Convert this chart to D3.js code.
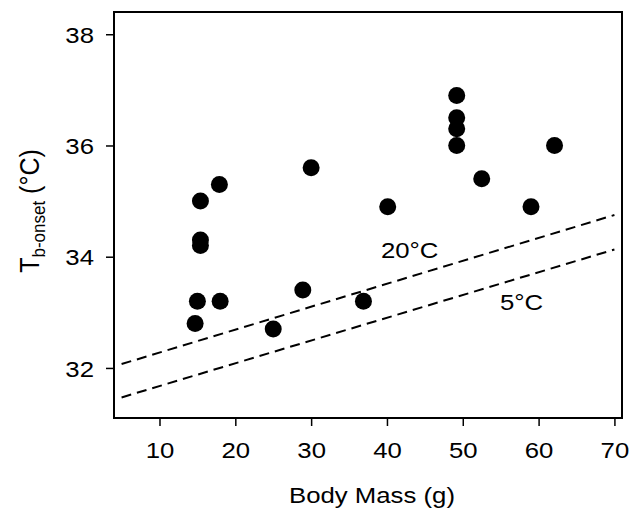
<!DOCTYPE html>
<html>
<head>
<meta charset="utf-8">
<script src="https://cdn.jsdelivr.net/npm/d3@7"></script>
<style>
	body { margin: 0; background: white; }
	svg text { font-family: "Liberation Sans", Arial, sans-serif; fill: #000; }
</style>
</head>
<body>
<div id="chart"></div>
<script>
// Body mass (g) and onset body temperature (°C)
const bodyMass = [14.7, 15, 18, 15.4, 15.4, 15.4, 17.9, 25, 28.9, 30, 36.9, 40.1, 49.2, 49.2, 49.2, 49.2, 52.5, 59, 62.1];
const tbOnset  = [32.8, 33.2, 33.2, 34.3, 34.2, 35.0, 35.3, 32.7, 33.4, 35.6, 33.2, 34.9, 36.9, 36.5, 36.3, 36.0, 35.4, 34.9, 36.0];

// dashed reference lines (ambient temperature)
const line20Mass = [5, 70];
const line20Tb = [32.07, 34.75];
const line5Mass = [5, 70];
const line5Tb = [31.47, 34.13];

const xTicks = [10, 20, 30, 40, 50, 60, 70];
const yTicks = [32, 34, 36, 38];

const stretch = 1.12;  // the figure's lettering is a bit wider than Arial

const margin = { top: 12, right: 18, bottom: 92, left: 114 };
const width = 640 - margin.left - margin.right;
const height = 510 - margin.top - margin.bottom;

const svg = d3.select("#chart")
	.append("svg")
	.attr("width", 640)
	.attr("height", 510)
	.append("g")
	.attr("transform", `translate(${margin.left},${margin.top})`);

const x = d3.scaleLinear().domain([4, 71]).range([0, width]);
const y = d3.scaleLinear().domain([31.1, 38.4]).range([height, 0]);

// x axis
const xAxisGroup = svg.append("g")
	.attr("transform", `translate(0,${height})`)
	.call(d3.axisBottom(x).tickValues(xTicks).tickSize(8).tickSizeOuter(0));
xAxisGroup.select(".domain").remove();
xAxisGroup.selectAll("line").attr("stroke", "#000").attr("stroke-width", 1.5);
xAxisGroup.selectAll("text")
	.attr("y", 0)
	.attr("dy", 0)
	.attr("transform", `translate(0,40) scale(${stretch},1)`)
	.style("font-size", "23px");

// y axis
const yAxisGroup = svg.append("g")
	.call(d3.axisLeft(y).tickValues(yTicks).tickSize(8).tickSizeOuter(0));
yAxisGroup.select(".domain").remove();
yAxisGroup.selectAll("line").attr("stroke", "#000").attr("stroke-width", 1.5);
yAxisGroup.selectAll("text")
	.attr("x", 0)
	.attr("dy", "0.36em")
	.attr("transform", `translate(-20,0) scale(${stretch},1)`)
	.style("font-size", "23px");

// frame
svg.append("rect")
	.attr("x", 0)
	.attr("y", 0)
	.attr("width", width)
	.attr("height", height)
	.attr("fill", "none")
	.attr("stroke", "#000")
	.attr("stroke-width", 2);

// dashed lines
const line = d3.line().x(d => x(d[0])).y(d => y(d[1]));
[[line20Mass, line20Tb], [line5Mass, line5Tb]].forEach(([m, t]) => {
	svg.append("path")
		.datum(m.map((v, i) => [v, t[i]]))
		.attr("d", line)
		.attr("fill", "none")
		.attr("stroke", "#000")
		.attr("stroke-width", 2)
		.attr("stroke-dasharray", "10,6");
});

// line labels
svg.append("text")
	.attr("transform", `translate(${x(39.2)},${y(33.97)}) scale(${stretch},1)`)
	.style("font-size", "23px")
	.text("20°C");
svg.append("text")
	.attr("transform", `translate(${x(54.9)},${y(33.04)}) scale(${stretch},1)`)
	.style("font-size", "23px")
	.text("5°C");

// points
svg.selectAll("circle.pt")
	.data(bodyMass.map((m, i) => ({ mass: m, tb: tbOnset[i] })))
	.enter()
	.append("circle")
	.attr("class", "pt")
	.attr("cx", d => x(d.mass))
	.attr("cy", d => y(d.tb))
	.attr("r", 8.5)
	.attr("fill", "#000");

// axis titles
svg.append("text")
	.attr("transform", `translate(${width / 2 + 4},${height + 85}) scale(${stretch},1)`)
	.attr("text-anchor", "middle")
	.style("font-size", "23px")
	.text("Body Mass (g)");

const yTitle = svg.append("text")
	.attr("transform", `translate(${39 - margin.left},${211 - margin.top}) scale(${stretch},1) rotate(-90)`)
	.attr("text-anchor", "middle")
	.style("font-size", "25px");
yTitle.append("tspan").text("T");
yTitle.append("tspan").attr("dy", 5).style("font-size", "17px").text("b-onset");
yTitle.append("tspan").attr("dy", -5).text(" (°C)");
</script>
</body>
</html>
